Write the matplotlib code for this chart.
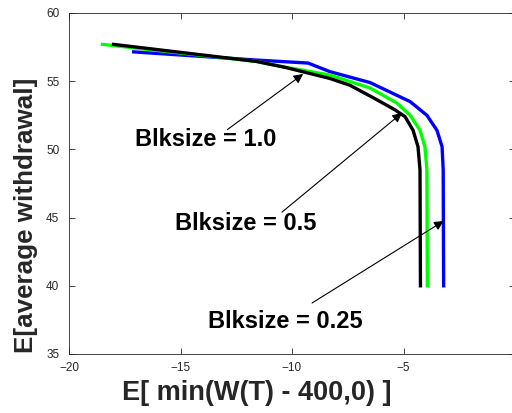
import numpy as np
import matplotlib.pyplot as plt

plt.rcParams['font.family'] = ['Liberation Sans', 'DejaVu Sans']

# Blksize = 0.25 (blue)
x_blue = [-17.1, -11.6, -9.28, -8.3, -6.5, -4.7, -3.95, -3.5, -3.27, -3.22, -3.2]
y_blue = [57.15, 56.55, 56.33, 55.7, 54.9, 53.5, 52.5, 51.4, 50.2, 48.5, 40.0]
# Blksize = 0.5 (green)
x_green = [-18.5, -11.6, -10.2, -8.3, -6.5, -5.3, -4.7, -4.26, -4.04, -3.95, -3.93]
y_green = [57.7, 56.45, 56.0, 55.45, 54.5, 53.4, 52.5, 51.4, 50.2, 48.5, 40.0]
# Blksize = 1.0 (black)
x_black = [-18.0, -11.6, -10.27, -8.3, -7.4, -6.37, -5.38, -4.93, -4.57, -4.35, -4.26, -4.24]
y_black = [57.7, 56.45, 56.0, 55.2, 54.7, 53.8, 52.9, 52.4, 51.4, 50.2, 48.5, 40.0]

labels = ['Blksize = 1.0', 'Blksize = 0.5', 'Blksize = 0.25']
heads = [(-9.5, 55.53), (-5.07, 52.67), (-3.2, 44.75)]
tails = [(-12.9, 51.45), (-10.45, 45.4), (-9.1, 38.74)]
text_pos = [(-17.04, 50.69), (-15.25, 44.6), (-13.77, 37.35)]

axcol = '#262626'

fig = plt.figure(figsize=(5.12, 4.13), dpi=100)
ax = fig.add_axes([69/512, 1 - 354/413, (515 - 69)/512, (354 - 13)/413])

ax.plot(x_blue, y_blue, color='#0000ff', lw=2.4)
ax.plot(x_green, y_green, color='#00ff00', lw=2.4)
ax.plot(x_black, y_black, color='black', lw=2.4)

for lab, h, t, p in zip(labels, heads, tails, text_pos):
    ax.annotate('', xy=h, xytext=t,
                arrowprops=dict(arrowstyle='-|>', color='black', lw=0.8,
                                mutation_scale=14, shrinkA=0, shrinkB=0))
    ax.text(p[0], p[1], lab, fontsize=17, fontweight='bold', ha='left', va='center')

ax.set_xlim(-20, 0)
ax.set_ylim(35, 60)
ax.set_xticks([-20, -15, -10, -5, 0])
ax.set_yticks([35, 40, 45, 50, 55, 60])
ax.tick_params(direction='in', top=True, right=True, labelsize=8.5,
               colors=axcol, length=4, width=0.6)
ax.tick_params(axis='y', pad=7)
ax.tick_params(axis='x', pad=6)
for s in ax.spines.values():
    s.set_color(axcol)
    s.set_linewidth(0.6)

ax.set_xlabel('E[ min(W(T) - 400,0) ]', fontsize=19.5, fontweight='bold', color=axcol)
ax.set_ylabel('E[average withdrawal]', fontsize=18.7, fontweight='bold', color=axcol)
ax.xaxis.set_label_coords(0.42, -0.076)
ax.yaxis.set_label_coords(-0.0695, 0.406)

fig.savefig('out.png', dpi=100)
